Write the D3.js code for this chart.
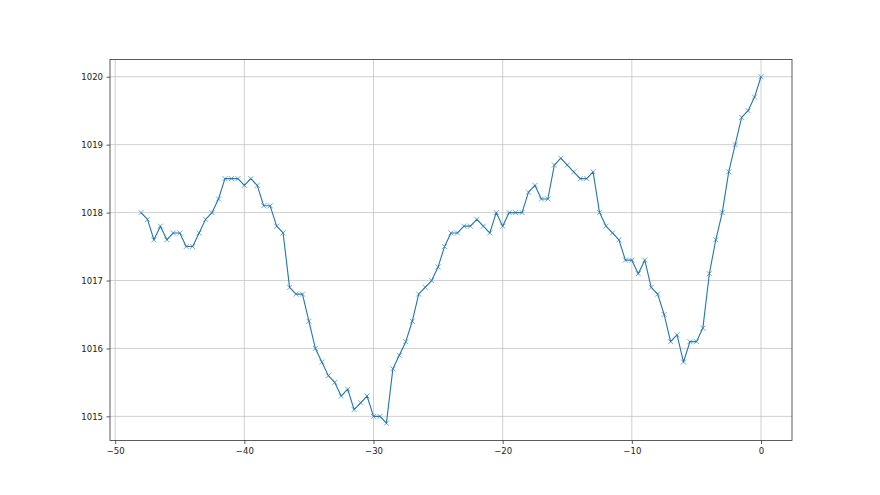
<!DOCTYPE html>
<html>
<head>
<meta charset="utf-8">
<script src="https://d3js.org/d3.v7.min.js"></script>
<style>
  body { margin: 0; background: #fff; }
  text { font-family: "DejaVu Sans", sans-serif; }
</style>
</head>
<body>
<div id="container"></div>
<script>
// hours before now, half-hour steps
var hours = d3.range(-48, 0.25, 0.5);

// pressure readings (hPa)
var pressure = [
  1018.0, 1017.9, 1017.6, 1017.8, 1017.6, 1017.7, 1017.7, 1017.5, 1017.5, 1017.7,
  1017.9, 1018.0, 1018.2, 1018.5, 1018.5, 1018.5, 1018.4, 1018.5, 1018.4, 1018.1,
  1018.1, 1017.8, 1017.7, 1016.9, 1016.8, 1016.8, 1016.4, 1016.0, 1015.8, 1015.6,
  1015.5, 1015.3, 1015.4, 1015.1, 1015.2, 1015.3, 1015.0, 1015.0, 1014.9, 1015.7,
  1015.9, 1016.1, 1016.4, 1016.8, 1016.9, 1017.0, 1017.2, 1017.5, 1017.7, 1017.7,
  1017.8, 1017.8, 1017.9, 1017.8, 1017.7, 1018.0, 1017.8, 1018.0, 1018.0, 1018.0,
  1018.3, 1018.4, 1018.2, 1018.2, 1018.7, 1018.8, 1018.7, 1018.6, 1018.5, 1018.5,
  1018.6, 1018.0, 1017.8, 1017.7, 1017.6, 1017.3, 1017.3, 1017.1, 1017.3, 1016.9,
  1016.8, 1016.5, 1016.1, 1016.2, 1015.8, 1016.1, 1016.1, 1016.3, 1017.1, 1017.6,
  1018.0, 1018.6, 1019.0, 1019.4, 1019.5, 1019.7, 1020.0
];

var xTicks = [-50, -40, -30, -20, -10, 0];
var yTicks = [1015, 1016, 1017, 1018, 1019, 1020];

var data = hours.map((h, i) => ({x: h, y: pressure[i]}));

var width = 880, height = 495;
var margin = {left: 110, right: 88, top: 59.4, bottom: 54.5};

var svg = d3.select("#container")
  .append("svg")
  .attr("width", width)
  .attr("height", height);

// matplotlib-style 5% padding on both axes
var xExt = d3.extent(hours), yExt = d3.extent(pressure);
var xPad = (xExt[1] - xExt[0]) * 0.05, yPad = (yExt[1] - yExt[0]) * 0.05;

var x = d3.scaleLinear()
  .domain([xExt[0] - xPad, xExt[1] + xPad])
  .range([margin.left, width - margin.right]);

var y = d3.scaleLinear()
  .domain([yExt[0] - yPad, yExt[1] + yPad])
  .range([height - margin.bottom, margin.top]);

var fmt = d => d3.format("d")(d).replace("-", "\u2212");

// grid
svg.append("g")
    .attr("stroke", "#c4c4c4")
    .attr("stroke-width", 0.8)
  .selectAll("line")
  .data(xTicks)
  .join("line")
    .attr("x1", d => x(d)).attr("x2", d => x(d))
    .attr("y1", margin.top).attr("y2", height - margin.bottom);

svg.append("g")
    .attr("stroke", "#c4c4c4")
    .attr("stroke-width", 0.8)
  .selectAll("line")
  .data(yTicks)
  .join("line")
    .attr("x1", margin.left).attr("x2", width - margin.right)
    .attr("y1", d => y(d)).attr("y2", d => y(d));

// axes
var xAxis = svg.append("g")
  .attr("transform", `translate(0,${height - margin.bottom})`)
  .call(d3.axisBottom(x).tickValues(xTicks).tickFormat(fmt).tickSize(3.5).tickPadding(3.5));

var yAxis = svg.append("g")
  .attr("transform", `translate(${margin.left},0)`)
  .call(d3.axisLeft(y).tickValues(yTicks).tickFormat(fmt).tickSize(3.5).tickPadding(3.5));

[xAxis, yAxis].forEach(g => {
  g.select(".domain").remove();
  g.selectAll(".tick line").attr("stroke", "#333").attr("stroke-width", 0.8);
  g.selectAll(".tick text")
    .attr("fill", "#222")
    .attr("font-size", 8.5)
    .attr("font-family", "DejaVu Sans, sans-serif");
});

// line
svg.append("path")
  .datum(data)
  .attr("fill", "none")
  .attr("stroke", "#1f77b4")
  .attr("stroke-width", 1.1)
  .attr("stroke-linejoin", "round")
  .attr("d", d3.line().x(d => x(d.x)).y(d => y(d.y)));

// x markers
var m = 2.5;
svg.append("g")
    .attr("stroke", "#1f77b4")
    .attr("stroke-width", 0.8)
    .attr("stroke-opacity", 0.8)
  .selectAll("path")
  .data(data)
  .join("path")
    .attr("d", d => {
      var cx = x(d.x), cy = y(d.y);
      return `M${cx - m},${cy - m}L${cx + m},${cy + m}M${cx - m},${cy + m}L${cx + m},${cy - m}`;
    });

// frame
svg.append("rect")
  .attr("x", margin.left)
  .attr("y", margin.top)
  .attr("width", width - margin.left - margin.right)
  .attr("height", height - margin.top - margin.bottom)
  .attr("fill", "none")
  .attr("stroke", "#333")
  .attr("stroke-width", 0.8);
</script>
</body>
</html>
